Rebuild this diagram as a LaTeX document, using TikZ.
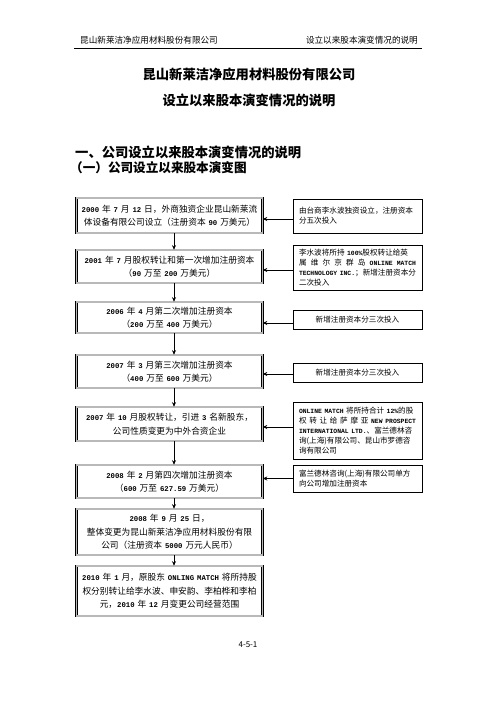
\documentclass[tikz,border=0pt]{standalone}
\usepackage{fontspec}
\newfontfamily\cjk{Noto Sans CJK SC}
\newfontfamily\mono[Scale=0.84]{Liberation Mono}
\usetikzlibrary{arrows.meta}
\newcommand{\lt}[1]{{\mono\bfseries #1}}
\tikzset{
  lbox/.style={draw=black, line width=0.6pt, double=gray!55, double distance=1.3pt,
    minimum width=186pt, text width=180pt, align=center, inner sep=0pt,
    font=\cjk\fontsize{8.7}{13.5}\selectfont},
  rbox/.style={draw=black, line width=0.8pt, minimum width=129pt, text width=117pt,
    inner sep=0pt, font=\cjk\fontsize{7.6}{9.9}\selectfont},
  arr/.style={line width=0.8pt, -{Stealth[length=4.5pt,width=4pt]}},
  hdr/.style={font=\cjk\fontsize{8.6}{10}\selectfont, inner sep=0pt},
  ttl/.style={font=\cjk\bfseries\fontsize{13.3}{15}\selectfont, inner sep=0pt}
}
\begin{document}
\begin{tikzpicture}[x=1pt,y=-1pt]
\fill[white] (0,0) rectangle (496,702);
\useasboundingbox (0,0) rectangle (496,702);
% header
\node[hdr, anchor=west] (hl) at (80,40) {昆山新莱洁净应用材料股份有限公司};
\node[hdr, anchor=east] (hr) at (418,40) {设立以来股本演变情况的说明};
\draw[line width=1pt] (74,48) coordinate (h1) -- (422,48) coordinate (h2);
% titles
\node[ttl] (t1) at (249,74) {昆山新莱洁净应用材料股份有限公司};
\node[ttl] (t2) at (249,100) {设立以来股本演变情况的说明};
\node[ttl, anchor=west] (s1) at (75,152) {一、公司设立以来股本演变情况的说明};
\node[ttl, anchor=west, font=\cjk\bfseries\fontsize{12.6}{15}\selectfont] (s2) at (70,168) {（一）公司设立以来股本演变图};
% left boxes
\node[lbox, minimum height=35pt] (L1) at (169.5,215.5) {\lt{2000} 年 \lt{7} 月 \lt{12} 日，外商独资企业昆山新莱流\\体设备有限公司设立（注册资本 \lt{90} 万美元）};
\node[lbox, minimum height=33pt] (L2) at (169.5,266.5) {\lt{2001} 年 \lt{7} 月股权转让和第一次增加注册资本\\（\lt{90} 万至 \lt{200} 万美元）};
\node[lbox, minimum height=31pt] (L3) at (169.5,317.5) {\lt{2006} 年 \lt{4} 月第二次增加注册资本\\（\lt{200} 万至 \lt{400} 万美元）};
\node[lbox, minimum height=33pt] (L4) at (169.5,371.5) {\lt{2007} 年 \lt{3} 月第三次增加注册资本\\（\lt{400} 万至 \lt{600} 万美元）};
\node[lbox, minimum height=34pt] (L5) at (169.5,424) {\lt{2007} 年 \lt{10} 月股权转让，引进 \lt{3} 名新股东，\\公司性质变更为中外合资企业};
\node[lbox, minimum height=33pt] (L6) at (169.5,481.5) {\lt{2008} 年 \lt{2} 月第四次增加注册资本\\（\lt{600} 万至 \lt{627.59} 万美元）};
\node[lbox, minimum height=46pt] (L7) at (169.5,532) {\lt{2008} 年 \lt{9} 月 \lt{25} 日，\\整体变更为昆山新莱洁净应用材料股份有限\\公司（注册资本 \lt{5000} 万元人民币）};
\node[lbox, minimum height=50pt] (L8) at (169.5,591) {\lt{2010} 年 \lt{1} 月，原股东 \lt{ONLING MATCH} 将所持股\\权分别转让给李水波、申安韵、李柏桦和李柏\\元，\lt{2010} 年 \lt{12} 月变更公司经营范围};
% right boxes
\node[rbox, minimum height=34pt, align=left] (A) at (357.5,216) {由台商李水波独资设立，注册资本\\分五次投入};
\node[rbox, minimum height=45pt, align=left] (B) at (357.5,267.5) {李水波将所持 \lt{100\%}股权转让给英\\\makebox[117pt][s]{属\hfill 维\hfill 尔\hfill 京\hfill 群\hfill 岛\hfill \lt{ONLINE}\hfill \lt{MATCH}}\\\lt{TECHNOLOGY INC.}；新增注册资本分\\二次投入};
\node[rbox, minimum height=19pt, align=center] (C) at (357.5,319.5) {新增注册资本分三次投入};
\node[rbox, minimum height=19pt, align=center] (D) at (357.5,372.5) {新增注册资本分三次投入};
\node[rbox, minimum height=57pt, align=left] (E) at (357.5,430.5) {\lt{ONLINE MATCH} 将所持合计 \lt{12\%}的股\\\makebox[117pt][s]{权\hfill 转\hfill 让\hfill 给\hfill 萨\hfill 摩\hfill 亚\hfill \lt{NEW}\hfill \lt{PROSPECT}}\\\lt{INTERNATIONAL LTD.}、富兰德林咨\\询(上海)有限公司、昆山市罗德咨\\询有限公司};
\node[rbox, minimum height=27pt, align=left] (F) at (357.5,478.5) {富兰德林咨询(上海)有限公司单方\\向公司增加注册资本};
% vertical arrows
\foreach \a/\b in {L1/L2,L2/L3,L3/L4,L4/L5,L5/L6,L6/L7,L7/L8}
  \draw[arr] ([xshift=4.5pt]\a.south) -- ([xshift=4.5pt]\a.south |- \b.north);
% horizontal arrows
\draw[arr] ([yshift=-3pt]A.west) -- ([yshift=-3pt]A.west -| L1.east);
\draw[arr] ([yshift=-2.5pt]B.west) -- ([yshift=-2.5pt]B.west -| L2.east);
\draw[arr] ([yshift=-3.5pt]C.west) -- ([yshift=-3.5pt]C.west -| L3.east);
\draw[arr] ([yshift=-1.5pt]D.west) -- ([yshift=-1.5pt]D.west -| L4.east);
\draw[arr] ([yshift=3.5pt]E.west) -- ([yshift=3.5pt]E.west -| L5.east);
\draw[arr] (F.west) -- (F.west -| L6.east);
% footer
\node[hdr, font=\cjk\fontsize{8}{10}\selectfont] (ft) at (248,645) {4-5-1};
\end{tikzpicture}
\end{document}
